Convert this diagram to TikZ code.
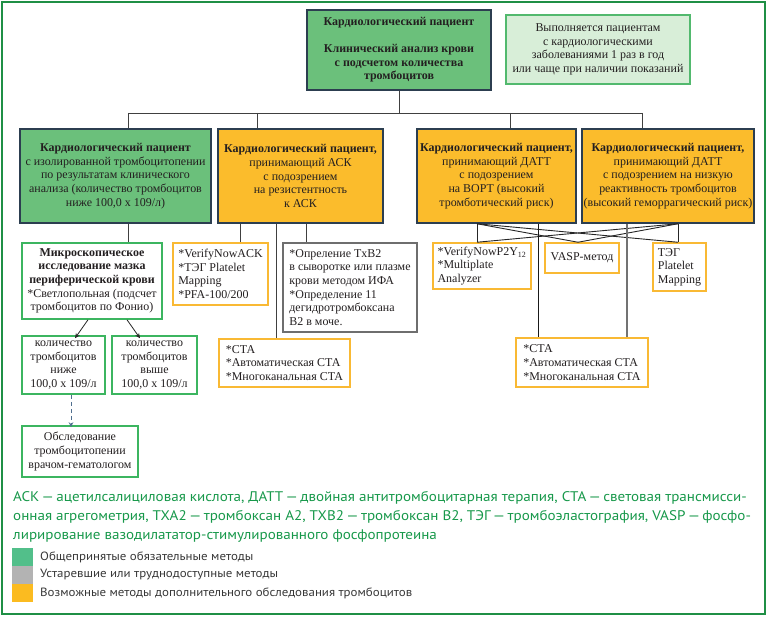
\documentclass[tikz,border=0pt]{standalone}
\usepackage{fontspec}
\setmainfont{Liberation Serif}
\newfontfamily\legendfont[FakeStretch=1.08]{PT Sans}
\usetikzlibrary{arrows.meta,calc}
\definecolor{frame}{HTML}{1F8F45}
\definecolor{gfill}{HTML}{6BC07B}
\definecolor{slate}{HTML}{2C3E50}
\definecolor{yfill}{HTML}{FBBC2C}
\definecolor{notefill}{HTML}{D8EED8}
\definecolor{noteborder}{HTML}{52B96E}
\definecolor{yborder}{HTML}{F9B934}
\definecolor{gborder}{HTML}{3CB560}
\definecolor{grayborder}{HTML}{6E6E6E}
\definecolor{txt}{HTML}{231F20}
\definecolor{dashcol}{HTML}{4F6F8F}
\definecolor{legtxt}{HTML}{17984A}
\definecolor{lg1}{HTML}{52BF8A}
\definecolor{lg2}{HTML}{B3B3B3}
\definecolor{lg3}{HTML}{FBBB20}
\begin{document}
\begin{tikzpicture}[x=1bp,y=-1bp,
  box/.style={rectangle, inner sep=0pt, text=txt, font=\fontsize{12}{13.7}\selectfont},
  bigbox/.style={box, draw=slate, line width=1.5bp, align=center},
  methodbox/.style={box, draw=yborder, line width=1.5bp, fill=white, align=left},
  greenbox/.style={box, draw=gborder, line width=1.5bp, fill=white, align=center},
  graybox/.style={box, draw=grayborder, line width=1.5bp, fill=white, align=left},
  conn/.style={draw=black!75, line width=0.9bp},
  connlight/.style={draw=black!55, line width=1.1bp},
  arr/.style={draw=black!85, line width=0.8bp, -{Stealth[length=5bp,width=4.5bp]}},
  legtext/.style={text=legtxt, font=\legendfont\fontsize{14}{16}\selectfont, anchor=west, inner sep=0pt},
  legitem/.style={text=black!78, font=\legendfont\fontsize{12}{14}\selectfont, anchor=west, inner sep=0pt},
  legsq/.style={rectangle, inner sep=0pt, minimum width=21bp, minimum height=18bp}
]
\useasboundingbox (0,0) rectangle (768,617);
\draw[frame, line width=1.5bp] (2,2) rectangle (765,614);

% top level
\node[bigbox, fill=gfill, minimum width=184bp, minimum height=80bp, font=\fontsize{12}{13.6}\selectfont\bfseries] (top) at (399,50)
 {Кардиологический пациент\\[13.6bp] Клинический анализ крови\\ с подсчетом количества\\ тромбоцитов};
\node[box, draw=noteborder, line width=1.5bp, fill=notefill, minimum width=184bp, minimum height=69bp, align=center] (note) at (598,49.5)
 {Выполняется пациентам\\ с кардиологическими\\ заболеваниями 1 раз в год\\ или чаще при наличии показаний};

% second row
\node[bigbox, fill=gfill, minimum width=191bp, minimum height=94bp] (A) at (115.5,176)
 {\textbf{Кардиологический пациент}\\ с изолированной тромбоцитопении\\ по результатам клинического\\ анализа (количество тромбоцитов\\ ниже 100,0 х 109/л)};
\node[bigbox, fill=yfill, minimum width=165bp, minimum height=94bp] (B) at (300.5,176)
 {\textbf{Кардиологический пациент,}\\ принимающий АСК\\ с подозрением\\ на резистентность\\ к АСК};
\node[bigbox, fill=yfill, minimum width=159bp, minimum height=94bp] (C) at (496.5,176)
 {\textbf{Кардиологический пациент,}\\ принимающий ДАТТ\\ с подозрением\\ на ВОРТ (высокий\\ тромботический риск)};
\node[bigbox, fill=yfill, minimum width=172bp, minimum height=94bp] (D) at (668,176)
 {\textbf{Кардиологический пациент,}\\ принимающий ДАТТ\\ с подозрением на низкую\\ реактивность тромбоцитов\\ (высокий геморрагический риск)};

% left branch
\node[greenbox, minimum width=140bp, minimum height=76bp] (micro) at (92,281)
 {\textbf{Микроскопическое}\\ \textbf{исследование мазка}\\ \textbf{периферической крови}\\ *Светлопольная (подсчет\\ тромбоцитов по Фонио)};
\node[greenbox, minimum width=83bp, minimum height=58bp] (low) at (63.5,365)
 {количество\\ тромбоцитов\\ ниже\\ 100,0 х 109/л};
\node[greenbox, minimum width=85bp, minimum height=58bp] (high) at (154.5,365)
 {количество\\ тромбоцитов\\ выше\\ 100,0 х 109/л};
\node[greenbox, minimum width=116bp, minimum height=51bp] (hem) at (80,451.5)
 {Обследование\\ тромбоцитопении\\ врачом-гематологом};

% ASK branch
\node[methodbox, minimum width=95bp, minimum height=62bp] (vna) at (220.5,274)
 {*VerifyNowACK\\ *ТЭГ Platelet\\ Mapping\\ *PFA-100/200};
\node[graybox, minimum width=134bp, minimum height=89bp] (txb) at (350,287.5)
 {*Опреление TxB2\\ в сыворотке или плазме\\ крови методом ИФА\\ *Определение 11\\ дегидротромбоксана\\ B2 в моче.};
\node[methodbox, minimum width=131bp, minimum height=48bp] (ctaL) at (284.5,363)
 {*СТА\\ *Автоматическая СТА\\ *Многоканальная СТА};

% DATT branch
\node[methodbox, minimum width=98bp, minimum height=46bp] (vnp) at (482,266)
 {*VerifyNowP2Y\textsubscript{12}\\ *Multiplate\\ Analyzer};
\node[methodbox, minimum width=74bp, minimum height=30bp, align=center] (vasp) at (582,258)
 {VASP-метод};
\node[methodbox, minimum width=53bp, minimum height=48bp] (teg) at (679.5,267)
 {ТЭГ\\ Platelet\\ Mapping};
\node[methodbox, minimum width=132bp, minimum height=49bp] (ctaR) at (582,362.5)
 {*СТА\\ *Автоматическая СТА\\ *Многоканальная СТА};

% top connectors
\coordinate (busL) at (128,113);
\coordinate (busR) at (642,113);
\coordinate (bB) at (257,113);
\coordinate (bC) at (510,113);
\draw[conn] (top.south) -- (top.south |- busL);
\draw[conn] (busL) -- (busR);
\draw[conn] (busL) -- (busL |- A.north);
\draw[conn] (bB) -- (bB |- B.north);
\draw[conn] (bC) -- (bC |- C.north);
\draw[conn] (busR) -- (busR |- D.north);

% left branch connectors
\coordinate (aS) at ([xshift=12.5bp]A.south);
\draw[conn] (aS) -- (aS |- micro.north);
\draw[arr] ([xshift=-4bp]micro.south) -- ([xshift=11.5bp,yshift=-3bp]low.north);
\draw[arr] ([xshift=35bp]micro.south) -- ([xshift=-14.5bp,yshift=-3bp]high.north);
\coordinate (lS) at ([xshift=7.5bp]low.south);
\draw[dashcol, line width=1bp, dash pattern=on 4bp off 3bp, -{Stealth[length=5bp,width=4.5bp]}] (lS) -- ([yshift=-2bp]lS |- hem.north);

% ASK connectors
\coordinate (b1) at ([xshift=-60.5bp]B.south);
\coordinate (b2) at ([xshift=-24.5bp]B.south);
\coordinate (b3) at ([xshift=5.5bp]B.south);
\draw[conn] (b1) -- (b1 |- vna.north);
\draw[conn] (b2) -- (b2 |- ctaL.north);
\draw[conn] (b3) -- (b3 |- txb.north);

% DATT connectors
\coordinate (cL) at ([xshift=-19.5bp]C.south);
\coordinate (cM) at ([xshift=41.5bp]C.south);
\coordinate (dM) at ([xshift=-41bp]D.south);
\coordinate (dR) at ([xshift=10bp]D.south);
\coordinate (cLb) at (cL |- vnp.north);
\coordinate (dRb) at (dR |- teg.north);
\coordinate (vm) at ([xshift=-4bp]vasp.north);
\draw[conn, draw=black!85] (cL) -- (cLb);
\draw[conn, draw=black!85] (dR) -- (dRb);
\draw[conn, draw=black!85] (cL) -- (vm);
\draw[conn, draw=black!85] (dR) -- (vm);
\draw[conn, draw=black!85] (cL) -- (dRb);
\draw[conn, draw=black!85] (dR) -- (cLb);
\draw[conn, draw=black!90] (cM) -- (cM |- ctaR.north);
\draw[connlight] (dM) -- (dM |- ctaR.north);

% legend
\node[legtext] (l1) at (13,498) {АСК\,—\,ацетилсалициловая кислота, ДАТТ\,—\,двойная антитромбоцитарная терапия, СТА\,—\,световая трансмисси-};
\node[legtext] (l2) at (13,517) {онная агрегометрия, ТХА2\,—\,тромбоксан А2, ТХВ2\,—\,тромбоксан В2, ТЭГ\,—\,тромбоэластография, VASP\,—\,фосфо-};
\node[legtext] (l3) at (13,536) {лирирование вазодилататор-стимулированного фосфопротеина};
\node[legsq, fill=lg1] (s1) at (22.5,557) {};
\node[legsq, fill=lg2] (s2) at (22.5,575) {};
\node[legsq, fill=lg3] (s3) at (22.5,593) {};
\node[legitem] (t1) at (40,557) {Общепринятые обязательные методы};
\node[legitem] (t2) at (40,575) {Устаревшие или труднодоступные методы};
\node[legitem] (t3) at (40,593) {Возможные методы дополнительного обследования тромбоцитов};
\end{tikzpicture}
\end{document}
